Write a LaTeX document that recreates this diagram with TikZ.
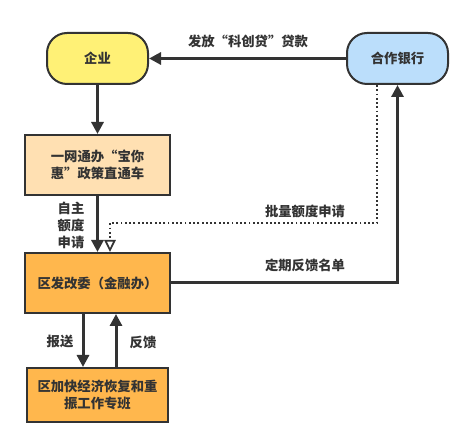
\documentclass[tikz,border=0pt]{standalone}
\usepackage{fontspec}
\setmainfont{Noto Sans CJK SC}
\usetikzlibrary{arrows.meta,calc}
\definecolor{ln}{HTML}{333333}
\definecolor{cyel}{HTML}{FFF176}
\definecolor{cblue}{HTML}{BBDEFB}
\definecolor{clor}{HTML}{FFE0B2}
\definecolor{cor}{HTML}{FFB74D}
\begin{document}
\begin{tikzpicture}[x=0.75pt,y=-0.75pt,
  every node/.style={text=ln,font=\fontsize{10}{13}\selectfont\bfseries,align=center},
  rbox/.style={draw=ln,line width=1.5pt,rounded corners=15pt,minimum width=75.75pt,minimum height=38.25pt,inner sep=0pt},
  sbox/.style={draw=ln,line width=1.5pt,inner sep=0pt},
  conn/.style={draw=ln,line width=2.25pt,-{Triangle[length=9pt,width=9pt]}},
  dconn/.style={draw=ln,line width=1.4pt,dash pattern=on 1.4pt off 1.8pt,-{Triangle[open,length=9pt,width=8.5pt,line width=1.3pt]}},
  lbl/.style={inner sep=1pt}]
\useasboundingbox (0,0) rectangle (475,448);
\node[rbox,fill=cyel] (qiye) at (97.5,58.5) {企业};
\node[rbox,fill=cblue] (bank) at (397.5,58.5) {合作银行};
\node[sbox,fill=clor,minimum width=108.75pt,minimum height=45pt] (ywtb) at (97.5,165) {一网通办“宝你\\惠”政策直通车};
\node[sbox,fill=cor,minimum width=108.75pt,minimum height=45pt] (fgw) at (97.5,283) {区发改委（金融办）};
\node[sbox,fill=cor,minimum width=105.75pt,minimum height=40.5pt] (zb) at (97.5,395) {区加快经济恢复和重\\振工作专班};
\draw[conn] (bank.west) -- (qiye.east);
\node[lbl] (l1) at (248,41) {发放“科创贷”贷款};
\draw[conn] (qiye.south) -- (ywtb.north);
\draw[conn] (ywtb.south) -- (fgw.north);
\node[lbl] (l2) at (71,225.5) {自主\\额度\\申请};
\draw[conn] (fgw.east) -| (bank.south);
\node[lbl] (l3) at (305,265) {定期反馈名单};
\coordinate (d1) at ($(bank.south)+(-20.5,0)$);
\coordinate (d2) at ($(fgw.north)+(12.5,0)$);
\draw[dconn] (d1) |- (110,223) -- (d2);
\node[lbl] (l4) at (305,211) {批量额度申请};
\draw[conn] ($(fgw.south)+(-14.5,0)$) -- ($(zb.north)+(-14.5,0)$);
\draw[conn] ($(zb.north)+(18.5,0)$) -- ($(fgw.south)+(18.5,0)$);
\node[lbl] (l5) at (60,342) {报送};
\node[lbl] (l6) at (143,342) {反馈};
\end{tikzpicture}
\end{document}
